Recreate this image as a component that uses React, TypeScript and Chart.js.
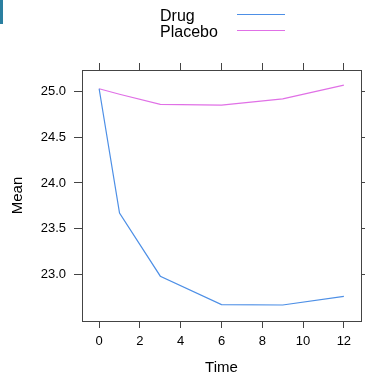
import React, { useEffect, useRef } from "react";
import { Chart, registerables } from "chart.js";

Chart.register(...registerables);

const times = [0, 1, 3, 6, 9, 12];
const drugMeans = [25.03, 23.67, 22.98, 22.67, 22.665, 22.76];
const placeboMeans = [25.03, 24.97, 24.86, 24.85, 24.92, 25.07];
const seriesNames = ["Drug", "Placebo"];
const seriesColors = ["#4d8fe6", "#e070e6"];
const xTickValues = [0, 2, 4, 6, 8, 10, 12];
const yTickValues = [23.0, 23.5, 24.0, 24.5, 25.0];

const FONT = "'Liberation Sans', Arial, Helvetica, sans-serif";
const AXIS_COLOR = "#444";

const legendPlugin = {
  id: "latticeLegend",
  afterDraw(chart: any) {
    const ctx = chart.ctx;
    ctx.save();
    ctx.font = `16px ${FONT}`;
    ctx.fillStyle = "#000";
    ctx.textAlign = "left";
    ctx.textBaseline = "alphabetic";
    const baselines = [21, 37];
    const lineYs = [14.5, 30.5];
    seriesNames.forEach((name, i) => {
      ctx.fillText(name, 160, baselines[i]);
      ctx.strokeStyle = seriesColors[i];
      ctx.lineWidth = 1.2;
      ctx.beginPath();
      ctx.moveTo(237, lineYs[i]);
      ctx.lineTo(285, lineYs[i]);
      ctx.stroke();
    });
    ctx.restore();
  },
};

export default function App() {
  const ref = useRef<HTMLCanvasElement | null>(null);

  useEffect(() => {
    if (!ref.current) return;
    const setX = (scale: any) => {
      scale.ticks = xTickValues.map((v) => ({ value: v }));
    };
    const setY = (scale: any) => {
      scale.ticks = yTickValues.map((v) => ({ value: v }));
    };
    const gridCommon = {
      drawOnChartArea: false,
      drawTicks: true,
      tickLength: 7,
      color: AXIS_COLOR,
      lineWidth: 1,
    };
    const chart = new Chart(ref.current, {
      type: "line",
      data: {
        datasets: [
          {
            label: seriesNames[0],
            data: times.map((t, i) => ({ x: t, y: drugMeans[i] })),
            borderColor: seriesColors[0],
            borderWidth: 1.2,
            pointRadius: 0,
            tension: 0,
            fill: false,
          },
          {
            label: seriesNames[1],
            data: times.map((t, i) => ({ x: t, y: placeboMeans[i] })),
            borderColor: seriesColors[1],
            borderWidth: 1.2,
            pointRadius: 0,
            tension: 0,
            fill: false,
          },
        ],
      },
      options: {
        animation: false,
        responsive: false,
        maintainAspectRatio: false,
        layout: { padding: 0 },
        plugins: { legend: { display: false }, tooltip: { enabled: false } },
        scales: {
          x: {
            type: "linear",
            position: "bottom",
            min: -0.84,
            max: 12.84,
            afterBuildTicks: setX,
            afterFit: (s: any) => {
              s.height = 54;
            },
            grid: gridCommon,
            border: { display: true, color: AXIS_COLOR, width: 1 },
            ticks: {
              color: "#000",
              font: { family: FONT, size: 13 },
              padding: 6,
              maxRotation: 0,
              autoSkip: false,
              callback: (v: any) => String(v),
            },
            title: {
              display: true,
              text: "Time",
              color: "#000",
              font: { family: FONT, size: 15, lineHeight: 1 },
              padding: { top: 0, bottom: 0 },
            },
          },
          x2: {
            type: "linear",
            position: "top",
            min: -0.84,
            max: 12.84,
            afterBuildTicks: setX,
            afterFit: (s: any) => {
              s.height = 70;
            },
            grid: gridCommon,
            border: { display: true, color: AXIS_COLOR, width: 1 },
            ticks: { display: false },
          },
          y: {
            type: "linear",
            position: "left",
            min: 22.49,
            max: 25.235,
            afterBuildTicks: setY,
            afterFit: (s: any) => {
              s.width = 82;
            },
            grid: { ...gridCommon, tickLength: 8 },
            border: { display: true, color: AXIS_COLOR, width: 1 },
            ticks: {
              color: "#000",
              font: { family: FONT, size: 13 },
              padding: 8,
              autoSkip: false,
              callback: (v: any) => Number(v).toFixed(1),
            },
            title: {
              display: true,
              text: "Mean",
              color: "#000",
              font: { family: FONT, size: 15, lineHeight: 1 },
              padding: { top: 10, bottom: 0 },
            },
          },
          y2: {
            type: "linear",
            position: "right",
            min: 22.49,
            max: 25.235,
            afterBuildTicks: setY,
            afterFit: (s: any) => {
              s.width = 4;
            },
            grid: { ...gridCommon, tickLength: 8 },
            border: { display: true, color: AXIS_COLOR, width: 1 },
            ticks: { display: false },
          },
        },
      },
      plugins: [legendPlugin],
    } as any);
    return () => chart.destroy();
  }, []);

  return (
    <div
      style={{
        position: "fixed",
        left: 0,
        top: 0,
        width: 365,
        height: 375,
        background: "#fff",
        overflow: "hidden",
      }}
    >
      <canvas ref={ref} width={365} height={375} style={{ display: "block" }} />
      <div
        style={{
          position: "absolute",
          left: 0,
          top: 0,
          width: 3,
          height: 24,
          background: "#2a7fa0",
        }}
      />
    </div>
  );
}
